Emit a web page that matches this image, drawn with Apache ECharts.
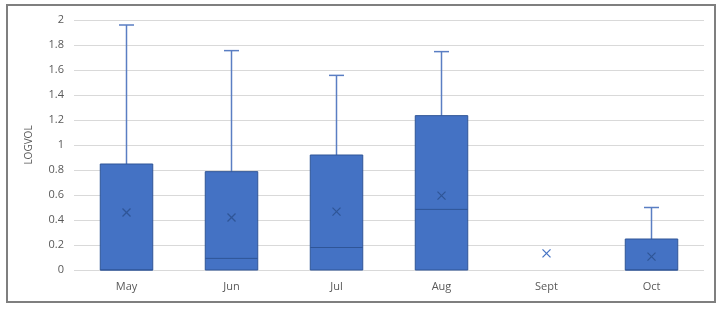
<!DOCTYPE html>
<html><head><meta charset="utf-8">
<script src="https://cdn.jsdelivr.net/npm/echarts@6/dist/echarts.min.js"></script>
<style>html,body{margin:0;padding:0;background:#fff}#c{width:720px;height:309px}</style>
</head><body><div id="c"></div>
<script>
var categories = ['May','Jun','Jul','Aug','Sept','Oct'];
var minVals    = [0, 0, 0, 0, null, 0];
var q1Vals     = [0, 0, 0, 0, null, 0];
var medianVals = [0, 0.093, 0.18, 0.485, null, 0];
var q3Vals     = [0.848, 0.787, 0.92, 1.235, null, 0.248];
var maxVals    = [1.96, 1.755, 1.557, 1.747, null, 0.5];
var meanVals   = [0.46, 0.42, 0.467, 0.595, 0.133, 0.107];
var yTicks     = [0, 0.2, 0.4, 0.6, 0.8, 1, 1.2, 1.4, 1.6, 1.8, 2];

var boxData = categories.map(function(c,i){
  return [i, minVals[i], q1Vals[i], medianVals[i], q3Vals[i], maxVals[i]];
}).filter(function(d){return d[5]!==null;});
var meanData = meanVals.map(function(v,i){return [i, v];});

var chart = echarts.init(document.getElementById('c'));
chart.setOption({
  animation:false,
  backgroundColor:'#fff',
  graphic:[{type:'rect',shape:{x:7,y:5,width:708,height:297},style:{fill:'none',stroke:'#7f7f7f',lineWidth:2},silent:true}],
  grid:{left:74,right:16,top:20,bottom:39},
  xAxis:{type:'category',data:categories,
    axisLine:{show:false},axisTick:{show:false},
    axisLabel:{color:'#595959',fontSize:11,fontFamily:'Open Sans',margin:11}},
  yAxis:{type:'value',min:0,max:2,interval:0.2,
    name:'LOGVOL',nameLocation:'middle',nameGap:40,nameRotate:90,
    nameTextStyle:{color:'#595959',fontSize:10,fontFamily:'Open Sans'},
    axisLine:{show:false},axisTick:{show:false},
    axisLabel:{color:'#595959',fontSize:11,fontFamily:'Open Sans',margin:10,
      formatter:function(v){return String(Math.round(v*10)/10);}},
    splitLine:{lineStyle:{color:'#d9d9d9',width:1}}},
  series:[{
    type:'custom',
    data:boxData,
    encode:{x:0,y:[1,2,3,4,5]},
    renderItem:function(params,api){
      var i=api.value(0);
      var pMin=api.coord([i,api.value(1)]);
      var pQ1=api.coord([i,api.value(2)]);
      var pMed=api.coord([i,api.value(3)]);
      var pQ3=api.coord([i,api.value(4)]);
      var pMax=api.coord([i,api.value(5)]);
      var bw=api.size([1,0])[0]*0.5;
      var cw=15;
      var x=pQ1[0];
      return {type:'group',children:[
        {type:'line',shape:{x1:x,y1:pMax[1],x2:x,y2:pQ3[1]},style:{stroke:'#5a7ec3',lineWidth:1.5}},
        {type:'line',shape:{x1:x-cw/2,y1:pMax[1],x2:x+cw/2,y2:pMax[1]},style:{stroke:'#5a7ec3',lineWidth:1.5}},
        {type:'line',shape:{x1:x,y1:pMin[1],x2:x,y2:pQ1[1]},style:{stroke:'#5a7ec3',lineWidth:1.5}},
        {type:'rect',shape:{x:x-bw/2,y:pQ3[1],width:bw,height:pQ1[1]-pQ3[1]},style:{fill:'#4472c4',stroke:'#2f5597',lineWidth:1}},
        {type:'line',shape:{x1:x-bw/2,y1:pMed[1],x2:x+bw/2,y2:pMed[1]},style:{stroke:'#2f5597',lineWidth:1}}
      ]};
    }
  },{
    type:'custom',
    data:meanData,
    encode:{x:0,y:1},
    z:5,
    renderItem:function(params,api){
      var i=api.value(0);
      var p=api.coord([i,api.value(1)]);
      var s=4;
      var inBox = params.dataIndex!==4;
      var col = inBox ? '#2f5597' : '#4472c4';
      return {type:'group',children:[
        {type:'line',shape:{x1:p[0]-s,y1:p[1]-s,x2:p[0]+s,y2:p[1]+s},style:{stroke:col,lineWidth:1.3}},
        {type:'line',shape:{x1:p[0]-s,y1:p[1]+s,x2:p[0]+s,y2:p[1]-s},style:{stroke:col,lineWidth:1.3}}
      ]};
    }
  }]
});
</script></body></html>
